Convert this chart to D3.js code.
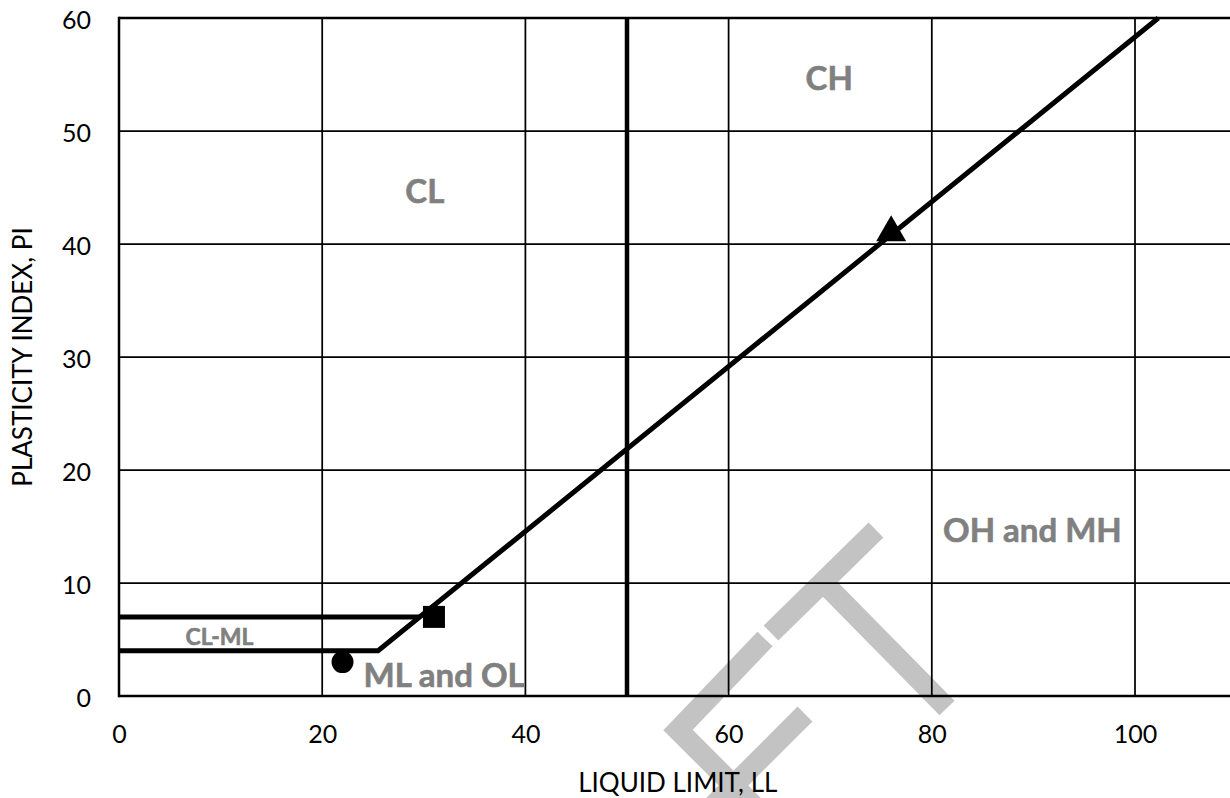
<!DOCTYPE html>
<html>
<head>
<meta charset="utf-8">
<script src="https://cdn.jsdelivr.net/npm/d3@7"></script>
<style>
  html, body { margin: 0; padding: 0; background: #fff; }
  svg { display: block; }
  text { font-family: Lato, "Open Sans", sans-serif; }
</style>
</head>
<body>
<svg id="chart" width="1230" height="798"></svg>
<script>
// Plasticity chart: liquid limit vs plasticity index
const xTicks = [0, 20, 40, 60, 80, 100];
const yTicks = [0, 10, 20, 30, 40, 50, 60];
const xGrid = [20, 40, 60, 80, 100];
const yGrid = [10, 20, 30, 40, 50];

// Boundary lines (LL, PI)
const lowerBoundary = [[0, 4], [25.5, 4], [102.3, 60]];
const upperBoundary = [[0, 7], [29.6, 7]];
const llDivider = [[50, 0], [50, 60]];

// Sample points
const sampleLL = [22, 31, 76];
const samplePI = [3, 7, 41];
const sampleShape = ["circle", "square", "triangle"];

// Zone labels
const zoneNames = ["CL", "CH", "OH and MH", "ML and OL", "CL-ML"];
const zoneLL = [30.1, 69.9, 89.9, 32, 9.9];
const zonePI = [44.8, 54.8, 14.8, 1.95, 5.3];
const zoneSize = ["big", "big", "big", "big", "small"];

const svg = d3.select("#chart");
const W = 1230, H = 798;
const margin = { left: 119, top: 18, bottom: 102 };

const x = d3.scaleLinear().domain([0, 110]).range([margin.left, 1236.6]);
const y = d3.scaleLinear().domain([0, 60]).range([H - margin.bottom, margin.top]);

// Light grey "ET" mark sitting behind the grid
const mark = svg.append("g").attr("fill", "none").attr("stroke", "#c3c3c3")
  .attr("stroke-width", 21).attr("stroke-linecap", "butt").attr("stroke-linejoin", "miter");
const markPaths = [
  [[876, 530], [771, 633]],
  [[823, 582], [947, 708]],
  [[765, 639], [678, 730], [775, 827]],
  [[805, 714], [708, 811]]
];
markPaths.forEach(p => mark.append("path").attr("d", d3.line()(p)));

// Grid
const grid = svg.append("g").attr("stroke", "#000").attr("stroke-width", 1.75);
grid.selectAll("line.v").data(xGrid).join("line")
  .attr("x1", d => x(d)).attr("x2", d => x(d))
  .attr("y1", y(0)).attr("y2", y(60));
grid.selectAll("line.h").data(yGrid).join("line")
  .attr("x1", x(0)).attr("x2", W)
  .attr("y1", d => y(d)).attr("y2", d => y(d));

// Frame (left, top, bottom)
const frame = svg.append("g").attr("stroke", "#000").attr("stroke-width", 2.5);
frame.append("line").attr("x1", x(0)).attr("x2", x(0)).attr("y1", y(60) - 1.25).attr("y2", y(0) + 1.25);
frame.append("line").attr("x1", x(0)).attr("x2", W).attr("y1", y(60)).attr("y2", y(60));
frame.append("line").attr("x1", x(0)).attr("x2", W).attr("y1", y(0)).attr("y2", y(0));

// Axes (labels only)
const xAxis = svg.append("g").attr("transform", `translate(0,${y(0)})`)
  .call(d3.axisBottom(x).tickValues(xTicks).tickSize(0).tickPadding(29));
const yAxis = svg.append("g").attr("transform", `translate(${x(0)},0)`)
  .call(d3.axisLeft(y).tickValues(yTicks).tickSize(0).tickPadding(28));
[xAxis, yAxis].forEach(a => {
  a.select(".domain").remove();
  a.selectAll("text").attr("font-size", 25).attr("fill", "#000")
    .style("font-family", "Lato, 'Open Sans', sans-serif");
});
yAxis.selectAll("text").attr("dy", "0.4em");

// Boundary lines
const line = d3.line().x(d => x(d[0])).y(d => y(d[1]));
const bounds = svg.append("g").attr("fill", "none").attr("stroke", "#000")
  .attr("stroke-width", 5).attr("stroke-linejoin", "miter");
[lowerBoundary, upperBoundary].forEach(b => bounds.append("path").attr("d", line(b)));
bounds.append("path").attr("d", line(llDivider)).attr("stroke-width", 4.5);

// Zone labels
svg.append("g").selectAll("text").data(zoneNames).join("text")
  .attr("x", (d, i) => x(zoneLL[i]))
  .attr("y", (d, i) => y(zonePI[i]))
  .attr("text-anchor", "middle")
  .attr("dominant-baseline", "central")
  .attr("font-weight", "bold")
  .attr("font-size", (d, i) => zoneSize[i] === "big" ? 33 : 23)
  .attr("fill", "#808080")
  .attr("stroke", "#808080")
  .attr("stroke-width", 0.6)
  .text(d => d);

// Sample markers
const symbolType = { circle: d3.symbolCircle, square: d3.symbolSquare, triangle: d3.symbolTriangle };
const symbolSize = { circle: 380, square: 484, triangle: 390 };
svg.append("g").selectAll("path").data(sampleLL).join("path")
  .attr("transform", (d, i) => `translate(${x(d)},${y(samplePI[i])})`)
  .attr("d", (d, i) => d3.symbol().type(symbolType[sampleShape[i]]).size(symbolSize[sampleShape[i]])())
  .attr("fill", "#000");

// Axis titles
svg.append("text")
  .attr("x", (x(0) + x(110)) / 2).attr("y", 792)
  .attr("text-anchor", "middle").attr("font-size", 26).attr("fill", "#000")
  .text("LIQUID LIMIT, LL");
svg.append("text")
  .attr("transform", `translate(32,${(y(0) + y(60)) / 2}) rotate(-90)`)
  .attr("text-anchor", "middle").attr("font-size", 26).attr("fill", "#000")
  .text("PLASTICITY INDEX, PI");
</script>
</body>
</html>
